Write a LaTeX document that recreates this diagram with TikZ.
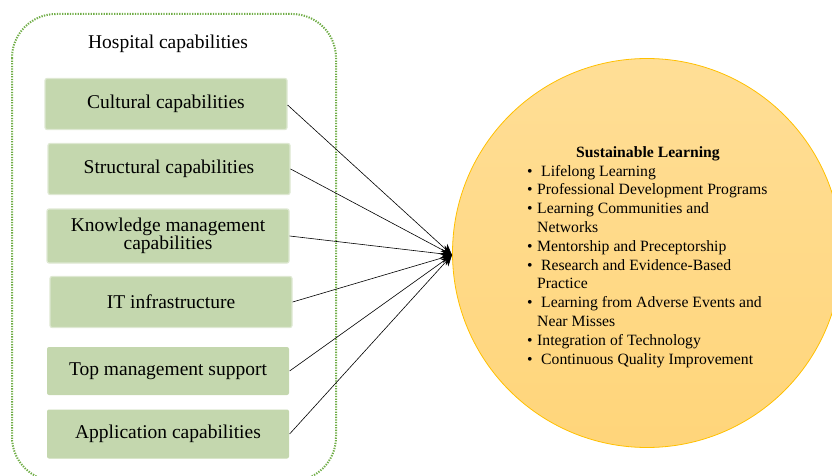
\documentclass[tikz,border=0pt]{standalone}
\usepackage{fontspec}
\setmainfont{Liberation Serif}
\usetikzlibrary{arrows.meta}
\definecolor{capfill}{RGB}{196,215,174}
\definecolor{capedge}{RGB}{222,232,210}
\definecolor{framegreen}{RGB}{112,173,71}
\definecolor{suntop}{RGB}{255,222,150}
\definecolor{sunbot}{RGB}{255,213,122}
\definecolor{sunedge}{RGB}{255,192,0}
\tikzset{
  capbox/.style={fill=capfill, draw=capedge, line width=1.2pt, rounded corners=2pt,
    minimum width=242pt, minimum height=51pt, align=center,
    font=\fontsize{19.5}{18}\selectfont, inner sep=2pt},
  link/.style={black, line width=0.6pt, -{Stealth[length=11pt,width=10pt]}},
}
\begin{document}
\begin{tikzpicture}[x=1pt,y=-1pt]
  \useasboundingbox (0,0) rectangle (832,476);
  \clip (0,0) rectangle (832,476);

  % outer frame for the hospital capabilities
  \draw[framegreen, line width=2pt, dash pattern=on 1.3pt off 1.3pt, rounded corners=44pt]
    (12,14) rectangle (336,481);
  \node[font=\fontsize{19.5}{22}\selectfont] (title) at (168,44) {Hospital capabilities};

  % capability boxes
  \node[capbox] (cult) at (166,104) {Cultural capabilities};
  \node[capbox] (struct) at (169,169) {Structural capabilities};
  \node[capbox, minimum height=54pt] (know) at (168,236) {Knowledge management\\capabilities};
  \node[capbox] (it) at (171,302) {IT infrastructure};
  \node[capbox, minimum height=48pt, draw=none] (top) at (168,371) {Top management support};
  \node[capbox, minimum height=49pt, draw=none] (app) at (168,434) {Application capabilities};

  % sustainable learning circle
  \shade[top color=suntop, bottom color=sunbot, draw=sunedge, line width=0.8pt]
    (647,253) circle (194.5);
  \node[circle, minimum size=389pt, inner sep=0pt] (sust) at (647,253) {};
  \coordinate (hub) at (452,255);

  \node[anchor=north west, inner sep=0pt, align=left,
        font=\fontsize{15.7}{18.8}\selectfont] (list) at (527,144)
  {%
    \begin{tabular}{@{}p{10pt}@{\hspace{0pt}}l@{}}
      \multicolumn{2}{@{}l@{}}{\hspace{49pt}\textbf{Sustainable Learning}}\\
      \textbullet & \hspace{4pt}Lifelong Learning\\
      \textbullet & Professional Development Programs\\
      \textbullet & Learning Communities and\\
                  & Networks\\
      \textbullet & Mentorship and Preceptorship\\
      \textbullet & \hspace{4pt}Research and Evidence-Based\\
                  & Practice\\
      \textbullet & \hspace{4pt}Learning from Adverse Events and\\
                  & Near Misses\\
      \textbullet & Integration of Technology\\
      \textbullet & \hspace{4pt}Continuous Quality Improvement
    \end{tabular}%
  };

  % connectors into the circle
  \draw[link] ([yshift=-1pt]cult.east) -- (hub);
  \draw[link] (struct.east) -- (hub);
  \draw[link] (know.east) -- (hub);
  \draw[link] (it.east) -- (hub);
  \draw[link] (top.east) -- (hub);
  \draw[link] (app.east) -- (hub);
\end{tikzpicture}
\end{document}
